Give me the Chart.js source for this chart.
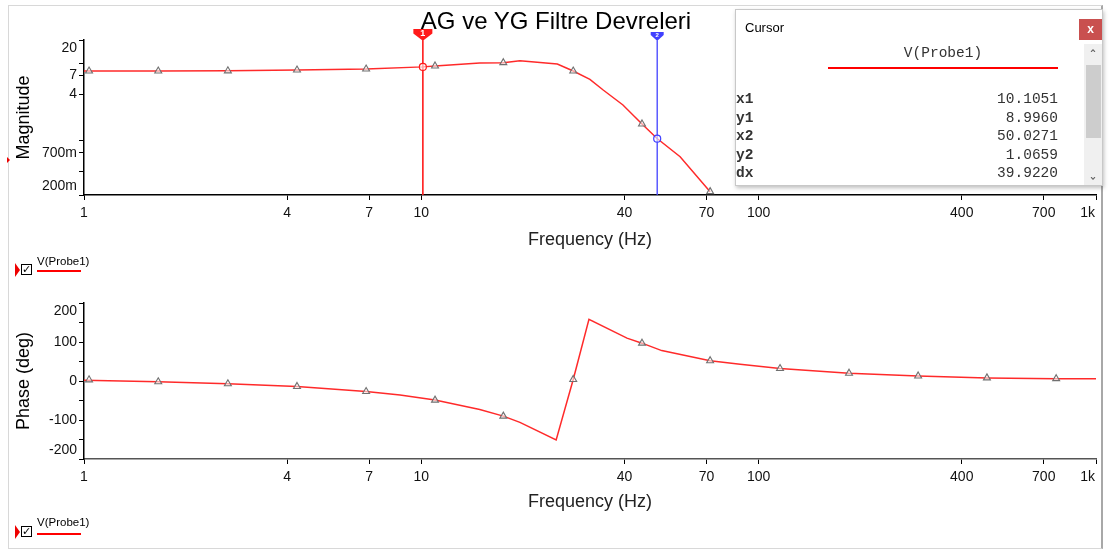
<!DOCTYPE html>
<html><head><meta charset="utf-8">
<script src="https://cdn.jsdelivr.net/npm/chart.js@4.4.1/dist/chart.umd.min.js"></script>
<style>
body{margin:0;width:1109px;height:550px;position:relative;overflow:hidden;background:#fff;font-family:'Liberation Sans',Arial,sans-serif;}
.abs{position:absolute}
#frame{left:8px;top:5px;width:1092px;height:542px;border:1px solid #d8d8d8;border-right:2px solid #a8a8a8;}
#title{left:356px;top:6px;width:400px;text-align:center;font-size:24px;line-height:29px;color:#000;}
.ptr{width:0;height:0;border-top:7px solid transparent;border-bottom:7px solid transparent;border-left:5px solid #e00;}
.chk{width:9px;height:9px;border:1.4px solid #000;background:#fff;font:bold 11px 'DejaVu Sans';line-height:9px;text-align:center;color:#000;}
.lt{font-size:11.5px;color:#000;}
.ul{height:1.5px;background:#f00;}
#cw{left:735px;top:9px;width:366px;height:175px;background:#fff;border:1px solid #c8c8c8;box-shadow:1px 2px 4px rgba(0,0,0,0.25);}
#cw .mono{font-family:'Liberation Mono','Courier New',monospace;font-size:14.5px;color:#333;}
.arr{font:bold 13px 'DejaVu Sans';color:#606060;width:18px;text-align:center;}
</style></head><body>
<div id="frame" class="abs"></div>
<div class="abs" style="left:0;top:0;width:1109px;height:260px"><canvas id="mag"></canvas></div>
<div class="abs" style="left:0;top:260px;width:1109px;height:260px"><canvas id="ph"></canvas></div>
<div id="title" class="abs">AG ve YG Filtre Devreleri</div>
<div class="abs" style="left:7px;top:157px;width:0;height:0;border-top:3px solid transparent;border-bottom:3px solid transparent;border-left:3px solid #e00;"></div>

<div class="abs ptr" style="left:15px;top:263px"></div>
<div class="abs chk" style="left:21px;top:264px">✓</div>
<div class="abs lt" style="left:37px;top:255px">V(Probe1)</div>
<div class="abs ul" style="left:37px;top:270px;width:44px"></div>

<div class="abs ptr" style="left:15px;top:525px"></div>
<div class="abs chk" style="left:21px;top:526px">✓</div>
<div class="abs lt" style="left:37px;top:516px">V(Probe1)</div>
<div class="abs ul" style="left:37px;top:533px;width:44px"></div>

<div id="cw" class="abs">
  <div class="abs" style="left:9px;top:10px;font-size:13px;color:#000">Cursor</div>
  <div class="abs" style="left:343px;top:9px;width:23px;height:21px;background:#c9504f;color:#fff;font:bold 12px 'Liberation Sans';line-height:20px;text-align:center">x</div>
  <div class="abs mono" id="cwHead" style="left:92px;top:35px;width:230px;text-align:center">V(Probe1)</div>
  <div class="abs" style="left:92px;top:57px;width:230px;height:1.5px;background:#f00"></div>
  <div id="rows"></div>
  <div class="abs" style="left:348px;top:34px;width:18px;height:141px;background:#f0f0f0"></div>
  <div class="abs arr" style="left:348px;top:38px">&#710;</div>
  <div class="abs" style="left:350px;top:55px;width:15px;height:73px;background:#cdcdcd"></div>
  <div class="abs arr" style="left:348px;top:156px;transform:scaleY(-1)">&#710;</div>
</div>

<script>
// ---------- data ----------
const xTickVals   = [1, 4, 7, 10, 40, 70, 100, 400, 700, 1000];
const xTickLabels = ['1','4','7','10','40','70','100','400','700','1k'];

const magTickVals   = [0.2, 0.4, 0.7, 1, 4, 7, 10, 20];
const magTickLabels = ['200m', '', '700m', '', '4', '7', '', '20'];

const phTickVals   = [-200, -150, -100, -50, 0, 50, 100, 150, 200];
const phTickLabels = ['-200', '', '-100', '', '0', '', '100', '', '200'];

const magFreq = [1, 1.66, 2.67, 4.28, 6.86, 10.1, 10.98, 14.9, 17.5, 19.6, 25.3, 28.2, 31.6, 34.6, 39.6, 45.1, 50.0, 58.5, 71.8];
const magVal  = [7.96, 7.96, 8.0, 8.2, 8.45, 9.0, 9.25, 10.1, 10.2, 10.82, 9.8, 7.96, 6.22, 4.53, 2.9, 1.65, 1.07, 0.624, 0.221];

const magMarkFreq = [1.035, 1.66, 2.67, 4.28, 6.86, 10.98, 17.5, 28.2, 45.1, 71.8];
const magMarkVal  = [7.96, 7.96, 8.0, 8.2, 8.45, 9.25, 10.2, 7.96, 1.65, 0.221];

const phFreq = [1, 1.66, 2.67, 4.28, 6.86, 8.65, 10.98, 14.9, 17.5, 19.6, 25.1, 28.2, 31.4, 40.7, 45.1, 51.6, 71.8, 88.1, 115.7, 185.3, 297, 475, 762, 1000];
const phVal  = [2, -2, -7, -14, -27, -36, -49, -73, -90, -106, -151, 4, 158, 110, 97, 78, 52, 43, 32, 20, 13, 8, 6, 6];

const phMarkFreq = [1.035, 1.66, 2.67, 4.28, 6.86, 10.98, 17.5, 28.2, 45.1, 71.8, 115.7, 185.3, 297, 475, 762];
const phMarkVal  = [3, -2, -7, -14, -27, -49, -90, 4, 97, 52, 32, 20, 13, 8, 6];

const cursorX = [10.1051, 50.0271];
const cursorY = [8.9960, 1.0659];
const cursorColor = ['#ff1a1a', '#4040ff'];
const cursorName = ['1', '2'];

// ---------- cursor window text ----------
const rowLabels = ['x1','y1','x2','y2','dx'];
const rowValues = [cursorX[0], cursorY[0], cursorX[1], cursorY[1], cursorX[1]-cursorX[0]];
const rowsDiv = document.getElementById('rows');
rowLabels.forEach((l,i)=>{
  const top = 81 + i*18.5;
  rowsDiv.insertAdjacentHTML('beforeend',
    `<div class="abs mono" style="left:0px;top:${top}px;font-weight:bold">${l}</div>`+
    `<div class="abs mono" style="left:150px;top:${top}px;width:172px;text-align:right">${rowValues[i].toFixed(4)}</div>`);
});

// ---------- helpers ----------
const FONT = "'Liberation Sans', Arial, sans-serif";
const pts = (xs, ys) => xs.map((x,i)=>({x, y: ys[i]}));
function yLabel(vals, labels){
  return (value) => {
    const i = vals.findIndex(v => Math.abs(v - value) < 1e-9);
    if (i < 0) return '';
    const t = labels[i];
    if (i === vals.length - 1 && t) return ['', t];
    if (i === 0 && t) return [t, ''];
    return t;
  };
}
function xLabel(v){
  const i = xTickVals.findIndex(t => Math.abs(t - v) < 1e-9);
  if (i < 0) return '';
  // keep the last label inside the plot edge, as in the original
  return i === xTickVals.length - 1 ? xTickLabels[i] + '\u2003\u2009' : xTickLabels[i];
}
function xAxis(height, titlePadBottom, borderColor){
  return {
    type: 'logarithmic', min: 1, max: 1000,
    afterBuildTicks: s => { s.ticks = xTickVals.map(v => ({value: v})); },
    afterFit: s => { s.height = height; s.paddingRight = 0; s.paddingLeft = 0; },
    grid: {drawOnChartArea: false, drawTicks: true, tickLength: 5, color: '#000', tickWidth: 1},
    border: {display: true, color: borderColor, width: 1.5},
    ticks: {autoSkip: false, maxRotation: 0, minRotation: 0, padding: 5, color: '#111',
            font: {family: FONT, size: 14}, callback: xLabel},
    title: {display: true, text: 'Frequency (Hz)', color: '#222', font: {family: FONT, size: 18}, padding: {top: 0, bottom: titlePadBottom}}
  };
}
function yAxisCommon(title){
  return {
    afterFit: s => { s.width = 84; },
    grid: {drawOnChartArea: false, drawTicks: true, tickLength: 5, color: '#000', tickWidth: 1},
    border: {display: true, color: '#000', width: 1.5},
    title: {display: true, text: title, color: '#000', font: {family: FONT, size: 18}, padding: {top: 13, bottom: 0}}
  };
}
const lineDs = (data) => ({data, showLine: true, borderColor: '#ff2a2a', borderWidth: 1.5, pointRadius: 0, tension: 0, order: 2});
const markDs = (data) => ({data, showLine: false, pointStyle: 'triangle', pointRadius: 4, pointBorderColor: '#707070',
                           pointBackgroundColor: 'rgba(255,255,255,0.55)', pointBorderWidth: 1.1, order: 1});

const cursorPlugin = {
  id: 'cursors',
  afterDatasetsDraw(chart){
    const {ctx, chartArea, scales: {x, y}} = chart;
    cursorX.forEach((cx, i) => {
      const px = x.getPixelForValue(cx);
      const col = cursorColor[i];
      ctx.save();
      ctx.strokeStyle = col; ctx.lineWidth = i === 0 ? 1.6 : 1.3;
      ctx.beginPath(); ctx.moveTo(px, chartArea.top - 1); ctx.lineTo(px, chartArea.bottom); ctx.stroke();
      // flag
      const w = i === 0 ? 19 : 13, t = chartArea.top - (i === 0 ? 11 : 8), band = i === 0 ? 4.5 : 3;
      ctx.fillStyle = col;
      ctx.beginPath();
      ctx.moveTo(px - w/2, t); ctx.lineTo(px + w/2, t); ctx.lineTo(px + w/2, t + band);
      ctx.lineTo(px + 1, chartArea.top); ctx.lineTo(px - 1, chartArea.top); ctx.lineTo(px - w/2, t + band);
      ctx.closePath(); ctx.fill();
      ctx.fillStyle = '#fff'; ctx.font = 'bold ' + (i === 0 ? 9 : 6) + 'px ' + FONT;
      ctx.textAlign = 'center'; ctx.textBaseline = 'middle';
      ctx.fillText(cursorName[i], px, t + band);
      // intersection circle
      const py = y.getPixelForValue(cursorY[i]);
      ctx.beginPath(); ctx.arc(px, py, 3.5, 0, Math.PI*2);
      ctx.fillStyle = 'rgba(255,255,255,0.6)'; ctx.fill();
      ctx.lineWidth = 1.2; ctx.strokeStyle = col; ctx.stroke();
      ctx.restore();
    });
  }
};

const baseOpts = {
  responsive: true, maintainAspectRatio: false, animation: false,
  plugins: {legend: {display: false}, tooltip: {enabled: false}, title: {display: false}},
  events: []
};

new Chart(document.getElementById('mag'), {
  type: 'scatter',
  data: {datasets: [lineDs(pts(magFreq, magVal)), markDs(pts(magMarkFreq, magMarkVal))]},
  options: Object.assign({}, baseOpts, {
    layout: {padding: {top: 40, right: 13, left: 0, bottom: 0}},
    scales: {
      x: xAxis(65, 9, '#000'),
      y: Object.assign(yAxisCommon('Magnitude'), {
        type: 'logarithmic', min: 0.2, max: 20,
        afterBuildTicks: s => { s.ticks = magTickVals.map(v => ({value: v})); },
        ticks: {autoSkip: false, padding: 2, color: '#111', font: {family: FONT, size: 14},
                callback: yLabel(magTickVals, magTickLabels)}
      })
    }
  }),
  plugins: [cursorPlugin]
});

new Chart(document.getElementById('ph'), {
  type: 'scatter',
  data: {datasets: [lineDs(pts(phFreq, phVal)), markDs(pts(phMarkFreq, phMarkVal))]},
  options: Object.assign({}, baseOpts, {
    layout: {padding: {top: 43, right: 13, left: 0, bottom: 0}},
    scales: {
      x: xAxis(61, 7, '#555'),
      y: Object.assign(yAxisCommon('Phase (deg)'), {
        type: 'linear', min: -200, max: 200,
        afterBuildTicks: s => { s.ticks = phTickVals.map(v => ({value: v})); },
        ticks: {autoSkip: false, padding: 2, color: '#111', font: {family: FONT, size: 14},
                callback: yLabel(phTickVals, phTickLabels)}
      })
    }
  })
});
</script>
</body></html>
